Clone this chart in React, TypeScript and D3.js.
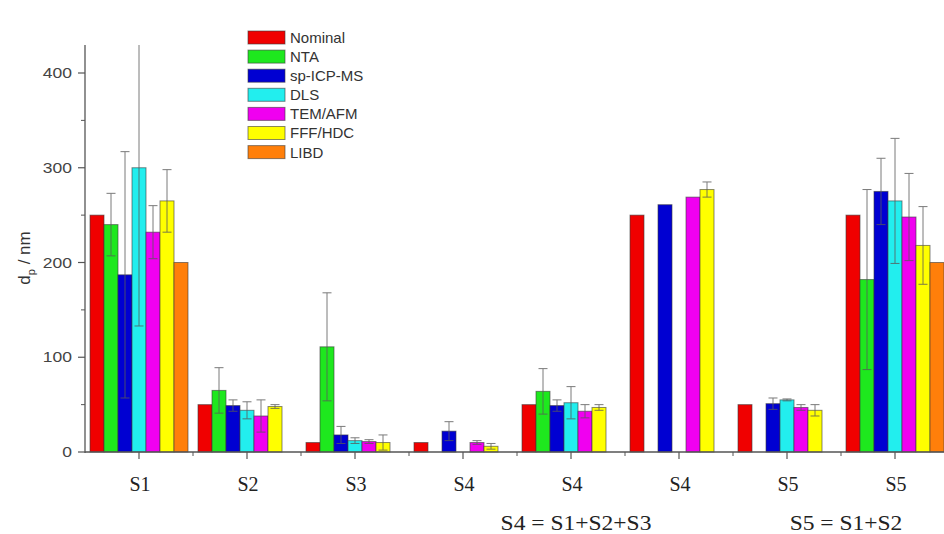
import React, { useEffect, useRef } from "react";
import * as d3 from "d3";

const categories = ["S1", "S2", "S3", "S4", "S4", "S4", "S5", "S5"];
const seriesNames = ["Nominal", "NTA", "sp-ICP-MS", "DLS", "TEM/AFM", "FFF/HDC", "LIBD"];
const seriesColors = ["#f00000", "#1ee81e", "#0000d2", "#22eeee", "#f000f0", "#ffff00", "#ff7f0a"];

const nominal = [250, 50, 10, 10, 50, 250, 50, 250];
const nta = [240, 65, 111, null, 64, null, null, 182];
const spicpms = [187, 49, 18, 22, 49, 261, 51, 275];
const dls = [300, 44, 12, null, 52, null, 55, 265];
const temafm = [232, 38, 11, 10, 43, 269, 47, 248];
const fffhdc = [265, 48, 10, 6, 47, 277, 44, 218];
const libd = [200, null, null, null, null, null, null, 200];

const nominalErr = [null, null, null, null, null, null, null, null];
const ntaErr = [33, 24, 57, null, 24, null, null, 95];
const spicpmsErr = [130, 6, 9, 10, 6, null, 6, 35];
const dlsErr = [167, 9, 3, null, 17, null, 1, 66];
const temafmErr = [28, 17, 2, 2, 7, null, 3, 46];
const fffhdcErr = [33, 2, 8, 3, 3, 8, 6, 41];
const libdErr = [null, null, null, null, null, null, null, null];

const yMajorTicks = [0, 100, 200, 300, 400];
const yMinorTicks = [50, 150, 250, 350];

const footnoteTexts = ["S4 = S1+S2+S3", "S5 = S1+S2"];
const footnoteGroupPos = [4, 6.5];

const allValues = [nominal, nta, spicpms, dls, temafm, fffhdc, libd];
const allErrors = [nominalErr, ntaErr, spicpmsErr, dlsErr, temafmErr, fffhdcErr, libdErr];

export default function App() {
  const ref = useRef<SVGSVGElement>(null);

  useEffect(() => {
    const W = 944;
    const left = 85, bottom = 452, top = 45;
    const groupW = 108;
    const svg = d3.select(ref.current);
    svg.selectAll("*").remove();

    const idx = categories.map((_, i) => i);
    const x0 = d3.scaleBand<number>().domain(idx).range([left, left + groupW * categories.length]).padding(0);
    const x1 = d3.scaleBand<string>().domain(seriesNames).range([5, groupW - 5]).padding(0);
    const y = d3.scaleLinear().domain([0, 430]).range([bottom, bottom - 430 * 0.9475]);
    const gx = (p: number) => left + p * groupW + groupW / 2;

    svg.append("defs").append("clipPath").attr("id", "plotclip")
      .append("rect").attr("x", left).attr("y", top).attr("width", W - left).attr("height", bottom - top + 1);

    const plot = svg.append("g").attr("clip-path", "url(#plotclip)");

    seriesNames.forEach((name, si) => {
      const vals = allValues[si];
      const g = plot.append("g");
      vals.forEach((v, gi) => {
        if (v == null) return;
        g.append("rect")
          .attr("x", (x0(gi) as number) + (x1(name) as number))
          .attr("y", y(v))
          .attr("width", x1.bandwidth())
          .attr("height", y(0) - y(v))
          .attr("fill", seriesColors[si])
          .attr("stroke", "#3a3a3a")
          .attr("stroke-opacity", 0.6)
          .attr("stroke-width", 1);
      });
    });

    seriesNames.forEach((name, si) => {
      const vals = allValues[si];
      const errs = allErrors[si];
      vals.forEach((v, gi) => {
        const e = errs[gi];
        if (v == null || e == null) return;
        const cx = (x0(gi) as number) + (x1(name) as number) + x1.bandwidth() / 2;
        const yt = y(v + e), yb = y(Math.max(0, v - e));
        const g = plot.append("g").attr("stroke", "#5a5a5a").attr("stroke-width", 1).attr("opacity", 0.8);
        g.append("line").attr("x1", cx).attr("x2", cx).attr("y1", yt).attr("y2", yb);
        g.append("line").attr("x1", cx - 4.5).attr("x2", cx + 4.5).attr("y1", yt).attr("y2", yt);
        g.append("line").attr("x1", cx - 4.5).attr("x2", cx + 4.5).attr("y1", yb).attr("y2", yb);
      });
    });

    const axisColor = "#555";
    const ya = svg.append("g");
    ya.append("line").attr("x1", left).attr("x2", left).attr("y1", top).attr("y2", bottom + 1)
      .attr("stroke", axisColor).attr("stroke-width", 1.3);
    yMajorTicks.forEach((t) => {
      ya.append("line").attr("x1", left - 7).attr("x2", left).attr("y1", y(t)).attr("y2", y(t))
        .attr("stroke", axisColor).attr("stroke-width", 1.2);
      ya.append("text").attr("transform", `translate(${left - 13},${y(t)}) scale(1.25,1)`).attr("dy", "0.36em")
        .attr("text-anchor", "end").attr("font-family", "Liberation Sans, Arial, sans-serif")
        .attr("font-size", 14).attr("fill", "#444").text(String(t));
    });
    yMinorTicks.forEach((t) => {
      ya.append("line").attr("x1", left - 4).attr("x2", left).attr("y1", y(t)).attr("y2", y(t))
        .attr("stroke", axisColor).attr("stroke-width", 1);
    });

    const xa = svg.append("g");
    xa.append("line").attr("x1", left).attr("x2", W).attr("y1", bottom).attr("y2", bottom)
      .attr("stroke", axisColor).attr("stroke-width", 1.3);
    categories.forEach((c, i) => {
      const cx = gx(i);
      xa.append("line").attr("x1", cx).attr("x2", cx).attr("y1", bottom).attr("y2", bottom + 7)
        .attr("stroke", axisColor).attr("stroke-width", 1.2);
      xa.append("text").attr("x", cx + 1).attr("y", bottom + 39)
        .attr("text-anchor", "middle").attr("font-family", "Liberation Serif, Times New Roman, serif")
        .attr("font-size", 20).attr("fill", "#222").text(c);
    });
    d3.range(1, categories.length + 1).forEach((i) => {
      const bx = left + i * groupW;
      if (bx > W) return;
      xa.append("line").attr("x1", bx).attr("x2", bx).attr("y1", bottom).attr("y2", bottom + 4)
        .attr("stroke", axisColor).attr("stroke-width", 1);
    });

    footnoteTexts.forEach((t, i) => {
      const cx = gx(footnoteGroupPos[i]) + 5;
      svg.append("text").attr("transform", `translate(${cx},530) scale(1.12,1)`)
        .attr("text-anchor", "middle").attr("font-family", "Liberation Serif, Times New Roman, serif")
        .attr("font-size", 21).attr("fill", "#222").text(t);
    });

    const yl = svg.append("text")
      .attr("transform", `translate(30, 258) rotate(-90)`)
      .attr("text-anchor", "middle").attr("font-family", "Liberation Sans, Arial, sans-serif")
      .attr("font-size", 17).attr("fill", "#333");
    yl.append("tspan").text("d");
    yl.append("tspan").attr("font-size", 11).attr("dy", 5).text("p");
    yl.append("tspan").attr("dy", -5).text(" / nm");

    const lg = svg.append("g").attr("transform", "translate(248, 31)");
    seriesNames.forEach((name, i) => {
      const ry = i * 19.1;
      lg.append("rect").attr("x", 0).attr("y", ry).attr("width", 37).attr("height", 13)
        .attr("fill", seriesColors[i]).attr("stroke", "#3a3a3a").attr("stroke-opacity", 0.6);
      lg.append("text").attr("x", 42).attr("y", ry + 6.5).attr("dy", "0.36em")
        .attr("font-family", "Liberation Sans, Arial, sans-serif").attr("font-size", 15)
        .attr("fill", "#333").text(name);
    });
  }, []);

  return (
    <svg ref={ref} width={944} height={534}
      style={{ position: "absolute", left: 0, top: 0, background: "#fff" }} />
  );
}
